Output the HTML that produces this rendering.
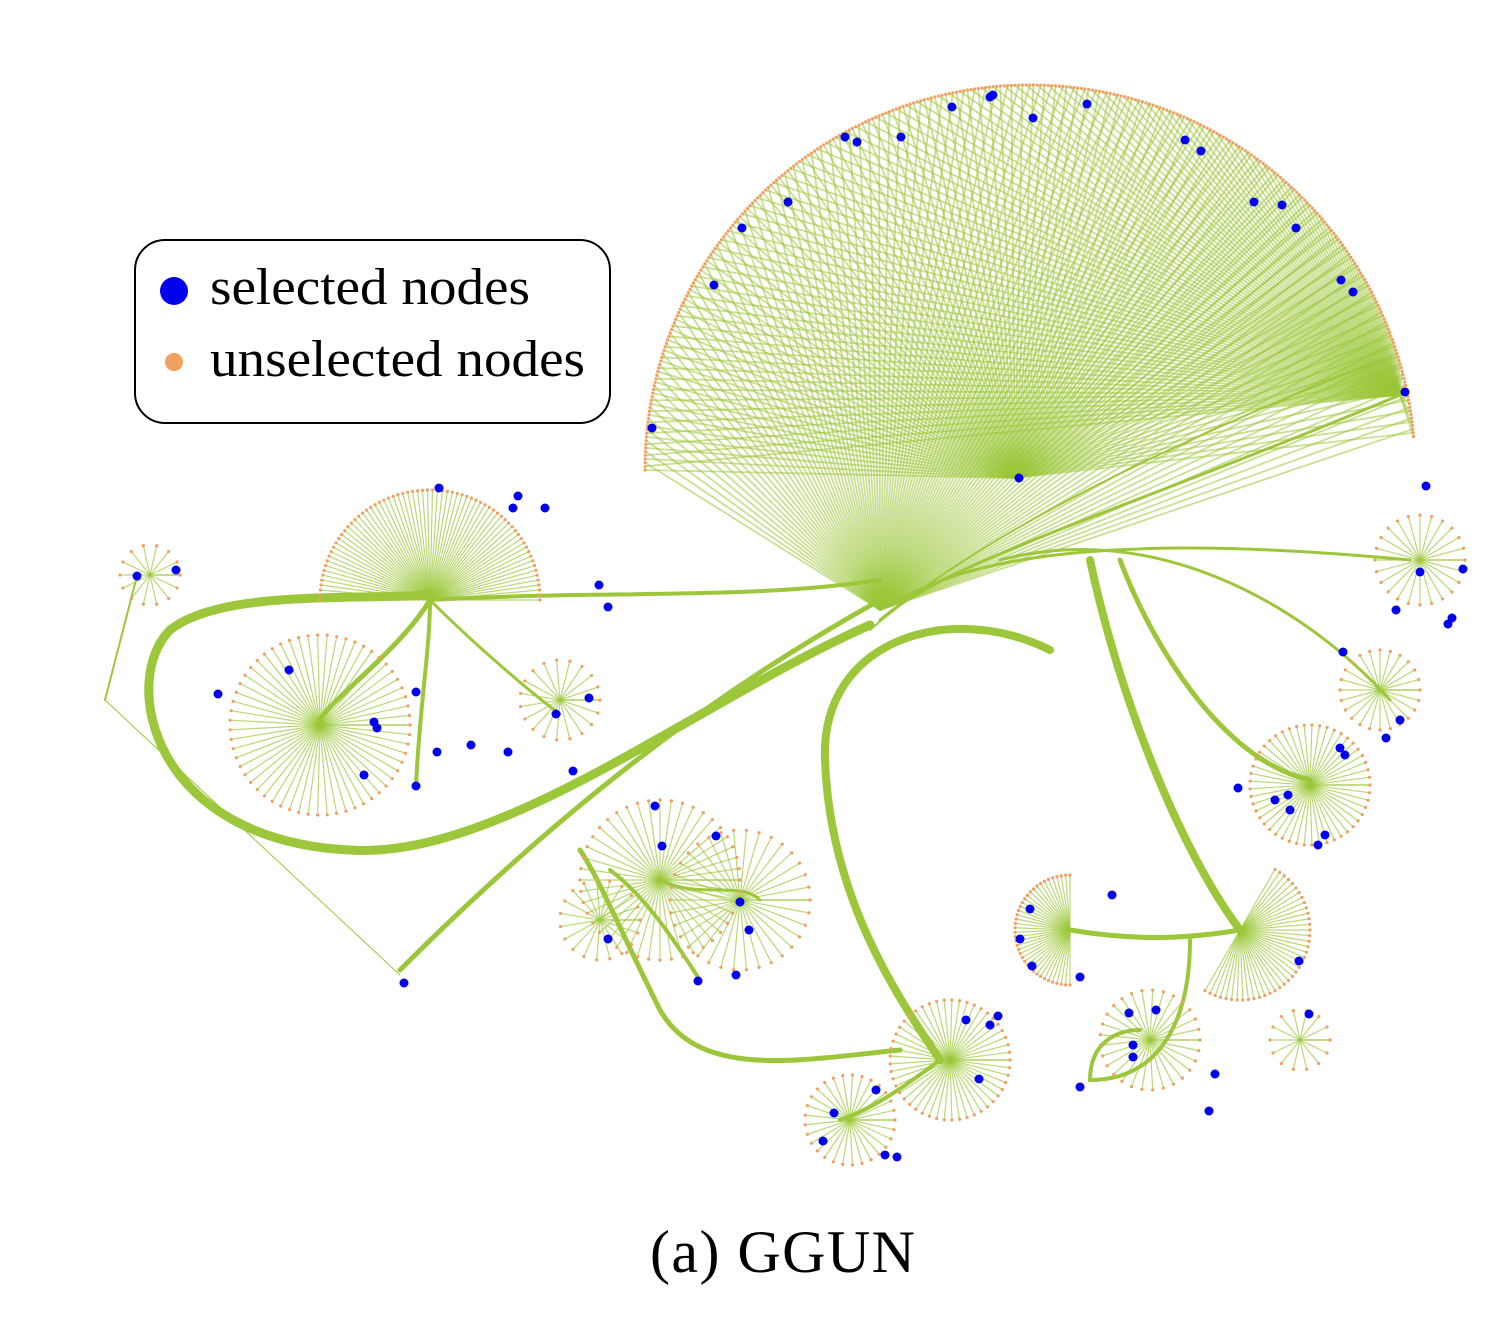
<!DOCTYPE html>
<html><head><meta charset="utf-8"><style>
html,body{margin:0;padding:0;background:#fff;}
svg{display:block;}
</style></head><body>
<svg id="chart" width="1512" height="1344" viewBox="0 0 1512 1344" xmlns="http://www.w3.org/2000/svg">
<g id="edges"></g>
<g id="bundles" fill="none" stroke="#9cc73a" stroke-linecap="round">
<path d="M870 625 C700 700,500 860,350 850 C150 840,120 680,170 630 C220 590,350 600,430 595" stroke-width="9"/>
<path d="M880 600 C700 700,550 820,400 970" stroke-width="5"/>
<path d="M1050 650 C950 600,820 640,825 760 C830 900,900 1000,940 1060" stroke-width="8"/>
<path d="M1090 560 C1120 700,1180 850,1240 930" stroke-width="8"/>
<path d="M1120 560 C1150 640,1220 760,1310 780" stroke-width="5"/>
<path d="M900 1050 C800 1060,700 1080,660 1010 C620 930,600 880,580 850" stroke-width="5"/>
<path d="M430 600 C600 590,750 600,880 580" stroke-width="4"/>
<path d="M880 620 C950 560,1100 520,1400 395" stroke-width="3"/>
<path d="M870 630 C950 560,1100 470,1380 360" stroke-width="2"/>
<path d="M900 600 C1000 540,1200 540,1410 560" stroke-width="3"/>
<path d="M1000 560 C1150 520,1300 600,1390 700" stroke-width="3"/>
<path d="M1070 930 C1130 940,1180 940,1240 930" stroke-width="5"/>
<path d="M1190 940 C1190 1020,1160 1080,1090 1080 C1090 1040,1120 1030,1140 1030" stroke-width="4"/>
<path d="M430 600 C400 650,330 700,320 720" stroke-width="5"/>
<path d="M430 600 C430 650,420 700,416 786" stroke-width="4"/>
<path d="M430 600 C480 650,540 700,560 714" stroke-width="3"/>
<path d="M610 870 C650 900,680 950,700 980" stroke-width="4"/>
<path d="M660 880 C700 900,740 880,760 900" stroke-width="3"/>
<path d="M940 1060 C900 1090,870 1110,840 1120" stroke-width="4"/>
<path d="M105 700 L137 576" stroke-width="2"/>
<path d="M105 700 L400 975" stroke-width="1"/>
</g>
<g id="leaves"></g>
<g id="selected"></g>
<g>
<rect x="135" y="240" width="475" height="183" rx="30" fill="#fff" stroke="#000" stroke-width="2"/>
<circle cx="174" cy="291" r="14" fill="#0000ee"/>
<text x="210" y="304" font-family="Liberation Serif, serif" font-size="52" textLength="320" lengthAdjust="spacingAndGlyphs">selected nodes</text>
<circle cx="174" cy="362" r="9" fill="#f0a060"/>
<text x="210" y="376" font-family="Liberation Serif, serif" font-size="52" textLength="375" lengthAdjust="spacingAndGlyphs">unselected nodes</text>
</g>
<text x="650" y="1272" font-family="Liberation Serif, serif" font-size="60" textLength="265" lengthAdjust="spacing">(a)  GGUN</text>
</svg>
<script>
const selectedX=[952,990,993,1033,1087,845,857,901,1185,1201,788,742,1254,1282,1296,714,1341,1353,652,1405,1426,1463,1420,1452,1448,1396,1343,1386,1400,1340,1345,1238,1275,1290,1288,1325,1318,1019,137,176,439,518,513,545,599,608,289,218,374,377,416,364,416,437,471,508,556,589,573,404,655,662,716,740,749,608,698,736,966,998,990,979,876,834,823,885,897,1030,1020,1032,1080,1112,1299,1309,1129,1156,1133,1133,1080,1215,1209];
const selectedY=[107,97,95,118,104,137,142,137,140,151,202,228,202,205,228,285,280,292,428,392,486,569,572,618,624,610,652,738,720,748,755,788,800,810,795,835,845,478,576,570,488,496,508,508,585,607,670,694,722,728,692,775,786,752,745,752,714,698,771,983,806,846,836,902,930,939,981,975,1020,1016,1025,1079,1090,1113,1141,1155,1157,909,939,966,977,895,961,1014,1013,1010,1045,1057,1087,1074,1111];
// clusters: hub x, hub y, radius, start angle, end angle (deg), leaf count
const hubX=[1015,430,320,1310,1070,950,1240,660,1150,1420,1380,850,150,560,740,600,1300];
const hubY=[478,600,725,785,930,1060,930,880,1040,560,690,1120,575,700,900,920,1040];
const hubR=[385,110,90,60,55,60,70,80,50,45,40,45,30,40,70,40,30];
const hubA0=[180,180,0,0,90,0,-60,0,0,0,0,0,0,0,0,0,0];
const hubA1=[355,360,360,360,270,360,120,360,360,360,360,360,360,360,360,360,360];
const hubN=[320,70,60,50,40,50,40,45,30,25,25,30,15,20,35,20,15];
const NS="http://www.w3.org/2000/svg";
const eg=document.getElementById('edges'),lg=document.getElementById('leaves'),sg=document.getElementById('selected');
for(let h=0;h<hubX.length;h++){
  for(let i=0;i<hubN[h];i++){
    const a=(hubA0[h]+(hubA1[h]-hubA0[h])*i/(hubN[h]-1))*Math.PI/180;
    let cx=hubX[h]+(h===0?15:0),cy=hubY[h]-(h===0?8:0);
    const lx=cx+hubR[h]*Math.cos(a), ly=cy+hubR[h]*Math.sin(a);
    const ln=document.createElementNS(NS,'line');
    
    
    let tx=hubX[h],ty=hubY[h];
    if(h===0&&i%3===1){tx=1400;ty=395;}
    if(h===0&&i%3===2){tx=880;ty=610;}
    ln.setAttribute('x1',lx);ln.setAttribute('y1',ly);ln.setAttribute('x2',tx);ln.setAttribute('y2',ty);
    ln.setAttribute('stroke','#9cc73a');ln.setAttribute('stroke-opacity',h===0?'0.55':'0.7');ln.setAttribute('stroke-width',h===0?'1.8':'1.2');
    eg.appendChild(ln);
    const c=document.createElementNS(NS,'circle');
    
    
    c.setAttribute('cx',lx);c.setAttribute('cy',ly);c.setAttribute('r','1.6');c.setAttribute('fill','#f0a060');
    lg.appendChild(c);
  }
}
for(let i=0;i<selectedX.length;i++){
  const c=document.createElementNS(NS,'circle');
  
  
  c.setAttribute('cx',selectedX[i]);c.setAttribute('cy',selectedY[i]);c.setAttribute('r','4.5');c.setAttribute('fill','#0000ee');
  sg.appendChild(c);
}
</script>
</body></html>
